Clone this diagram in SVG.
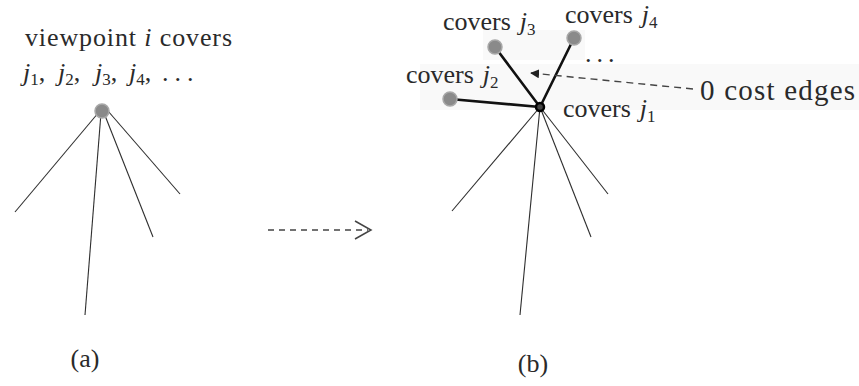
<svg xmlns="http://www.w3.org/2000/svg" width="859" height="386" viewBox="0 0 859 386">
<defs>
<style>
text{font-family:"Liberation Serif","Times New Roman",serif;font-size:26px;fill:#2a2a2a}
.it{font-style:italic}
.sub{font-size:17px}
.big{font-size:29px}
.thin{stroke:#2e2e2e;stroke-width:1.1;fill:none}
.thick{stroke:#111;stroke-width:2.6;fill:none;stroke-linecap:round}
.dash{stroke:#444;stroke-width:1.4;fill:none;stroke-dasharray:7 5}
.vp{fill:#8a8a8a;stroke:#a8a8a8;stroke-width:1.5}
</style>
<marker id="tri" viewBox="0 0 10 10" refX="9" refY="5" markerWidth="9" markerHeight="9" markerUnits="userSpaceOnUse" orient="auto">
<path d="M0,0 L10,5 L0,10 z" fill="#222"/>
</marker>
</defs>
<rect width="859" height="386" fill="#fff"/>
<rect x="420" y="64" width="439" height="46" fill="#f9f9f9"/>
<rect x="483" y="30" width="102" height="30" fill="#f9f9f9"/>

<g id="connectors">
  <!-- (a) rays -->
  <line class="thin" x1="99" y1="112" x2="15" y2="212"/>
  <line class="thin" x1="101" y1="113" x2="85" y2="315"/>
  <line class="thin" x1="104" y1="113" x2="153" y2="237"/>
  <line class="thin" x1="108" y1="111" x2="180" y2="194"/>
  <!-- transform arrow -->
  <line class="dash" x1="268" y1="230" x2="368" y2="230" style="stroke-dasharray:6 5"/>
  <polyline points="355,221 371,230 355,239" fill="none" stroke="#444" stroke-width="1.5"/>
  <!-- (b) rays -->
  <line class="thin" x1="540" y1="107" x2="452" y2="211"/>
  <line class="thin" x1="540" y1="107" x2="520" y2="315"/>
  <line class="thin" x1="540" y1="107" x2="591" y2="237"/>
  <line class="thin" x1="540" y1="107" x2="608" y2="194"/>
  <!-- 0 cost edges -->
  <line class="thick" x1="540" y1="107" x2="495" y2="47"/>
  <line class="thick" x1="540" y1="107" x2="574" y2="38"/>
  <line class="thick" x1="540" y1="107" x2="450" y2="99"/>
  <!-- label pointer -->
  <line class="dash" x1="693" y1="89" x2="531" y2="73" marker-end="url(#tri)"/>
</g>

<g id="node-a">
  <circle class="vp" cx="102" cy="111" r="7"/>
  <text x="25" y="46" textLength="207" lengthAdjust="spacing">viewpoint <tspan class="it">i</tspan> covers</text>
  <text y="81"><tspan x="23" class="it">j</tspan><tspan class="sub" dy="4">1</tspan><tspan dy="-4">,</tspan><tspan x="58" class="it">j</tspan><tspan class="sub" dy="4">2</tspan><tspan dy="-4">,</tspan><tspan x="95" class="it">j</tspan><tspan class="sub" dy="4">3</tspan><tspan dy="-4">,</tspan><tspan x="129" class="it">j</tspan><tspan class="sub" dy="4">4</tspan><tspan dy="-4">,</tspan><tspan x="162" letter-spacing="6">...</tspan></text>
  <text x="85" y="367" text-anchor="middle">(a)</text>
</g>

<g id="node-b-j1">
  <circle cx="540" cy="107" r="4" fill="#444" stroke="#000" stroke-width="2.5"/>
  <text x="563" y="117">covers<tspan dx="9" class="it">j</tspan><tspan class="sub" dy="5">1</tspan></text>
</g>
<g id="node-b-j2">
  <circle class="vp" cx="450" cy="99" r="7"/>
  <text x="406" y="83">covers<tspan dx="9" class="it">j</tspan><tspan class="sub" dy="5">2</tspan></text>
</g>
<g id="node-b-j3">
  <circle class="vp" cx="495" cy="47" r="7"/>
  <text x="443" y="30">covers<tspan dx="9" class="it">j</tspan><tspan class="sub" dy="5">3</tspan></text>
</g>
<g id="node-b-j4">
  <circle class="vp" cx="574" cy="38" r="7"/>
  <text x="565" y="23">covers<tspan dx="9" class="it">j</tspan><tspan class="sub" dy="5">4</tspan></text>
</g>
<g id="labels-b">
  <text x="585" y="62" letter-spacing="5">...</text>
  <text class="big" x="700" y="100" textLength="155" lengthAdjust="spacing">0 cost edges</text>
  <text x="533" y="372" text-anchor="middle">(b)</text>
</g>
</svg>
